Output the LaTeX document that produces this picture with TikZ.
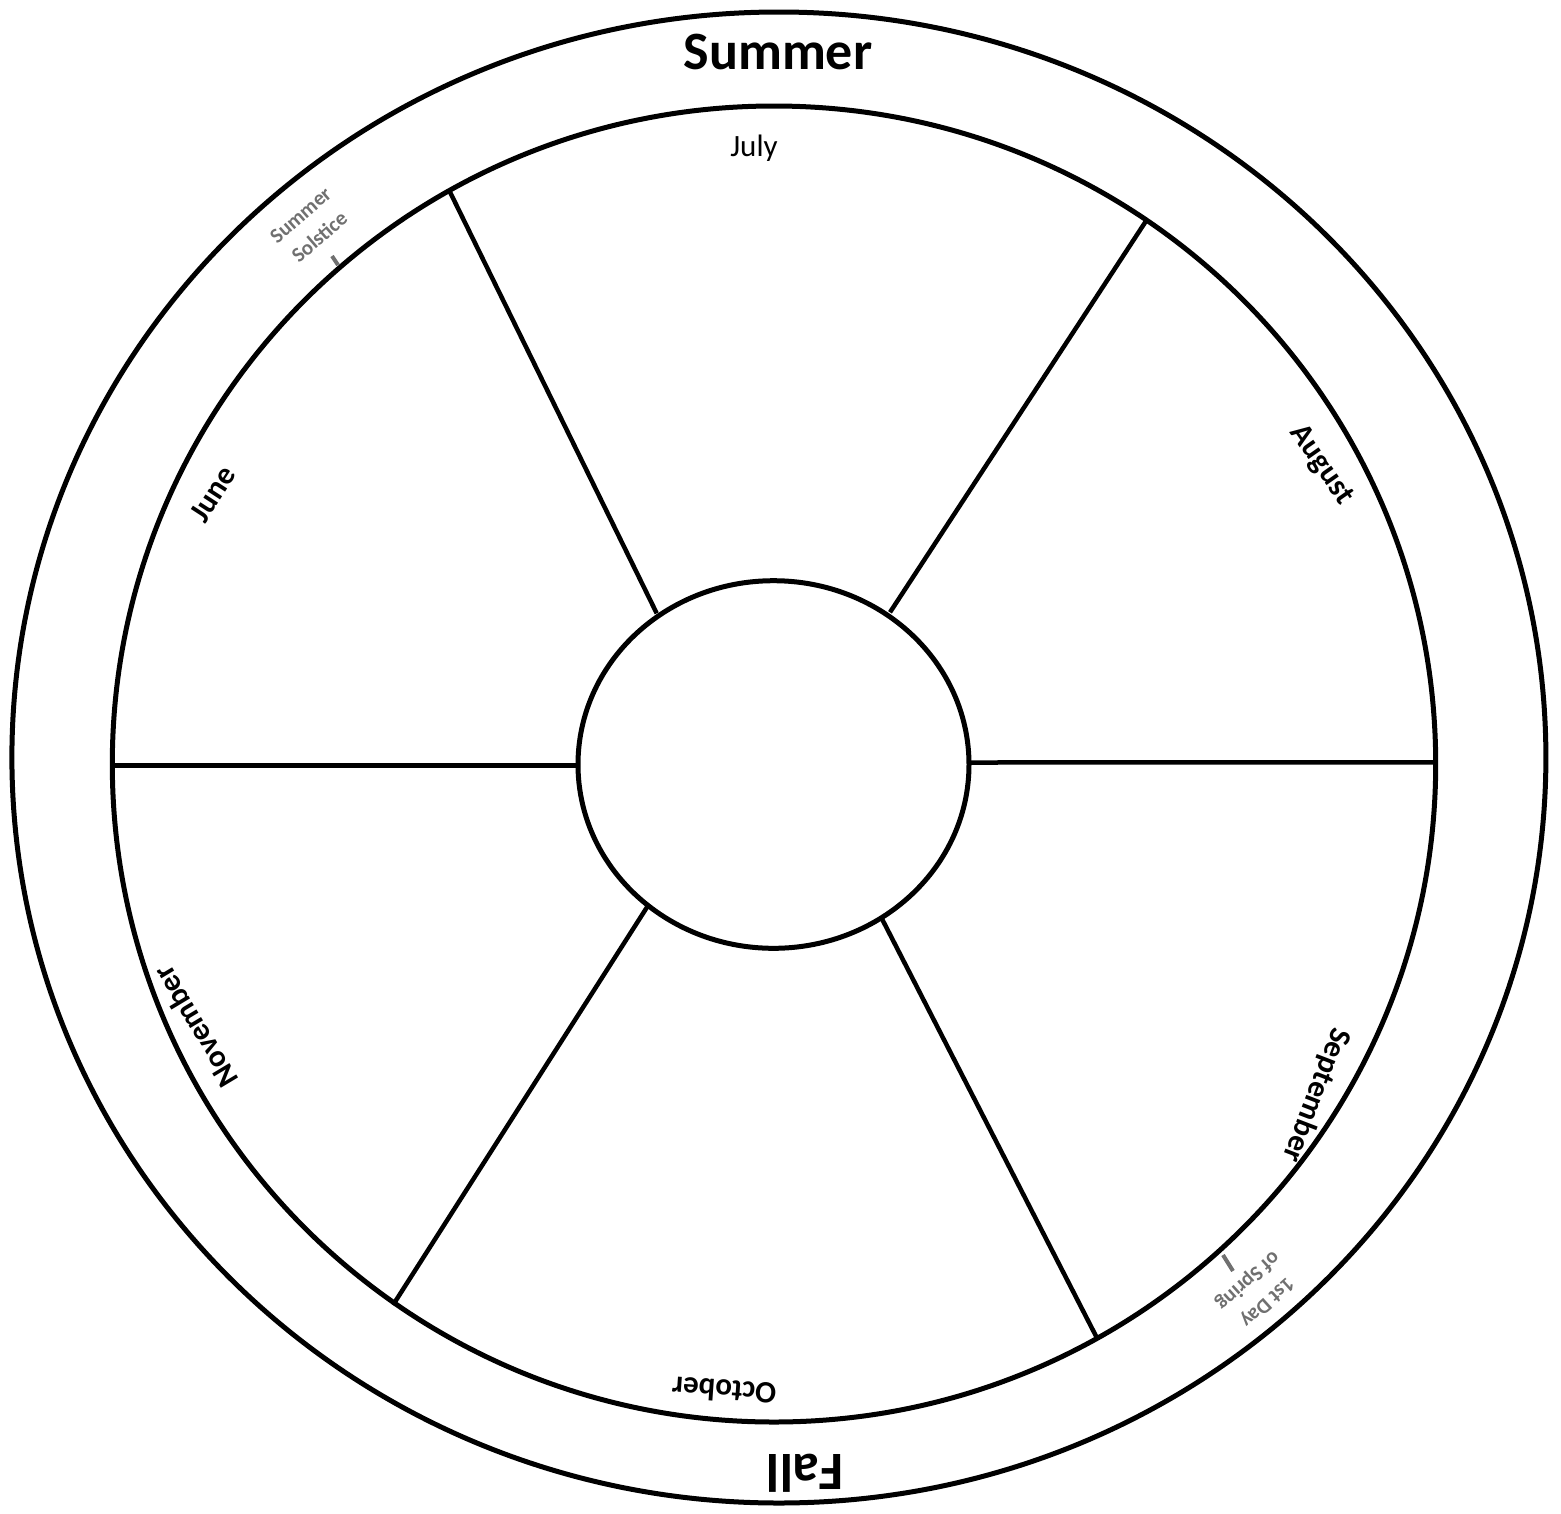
\documentclass[tikz,border=0pt]{standalone}
\usepackage{fontspec}
\setmainfont{Carlito}
\definecolor{tickgray}{RGB}{112,112,112}
\begin{document}
\begin{tikzpicture}[x=1pt,y=-1pt,
  ring/.style={draw=black,line width=5pt},
  spoke/.style={draw=black,line width=4.5pt},
  season/.style={font=\fontsize{54}{60}\selectfont\bfseries,inner sep=0pt},
  month/.style={font=\fontsize{31}{36}\selectfont\bfseries,inner sep=0pt},
  plainmonth/.style={font=\fontsize{31}{36}\selectfont,inner sep=0pt},
  note/.style={font=\fontsize{21}{29}\selectfont\bfseries,text=tickgray,align=center,inner sep=0pt},
  tick/.style={draw=tickgray,line width=4pt}]
\useasboundingbox (0,0) rectangle (1561,1513);
% rings
\coordinate (oc) at (778.9,757.5);
\coordinate (mc) at (774,764);
\coordinate (ic) at (773.5,764.5);
\draw[ring] (oc) ellipse [x radius=767pt, y radius=745.5pt];
\draw[ring] (mc) ellipse [x radius=661.7pt, y radius=658pt];
\draw[ring] (ic) ellipse [x radius=195.5pt, y radius=183.8pt];
% spoke end points
\coordinate (a1) at (656.7,613.3); \coordinate (b1) at (449,190);
\coordinate (a2) at (890,612.3);   \coordinate (b2) at (1146,221);
\coordinate (a3) at (970,762.5);   \coordinate (b3) at (1436,762.3);
\coordinate (a4) at (881.7,918.3); \coordinate (b4) at (1098,1340);
\coordinate (a5) at (647.3,906.7); \coordinate (b5) at (393,1305);
\coordinate (a6) at (578,765.7);   \coordinate (b6) at (113,765.7);
\foreach \i in {1,...,6} \draw[spoke] (a\i) -- (b\i);
% seasons
\node[season] (summer) at (778,52) {Summer};
\node[season,rotate=180] (fall) at (805,1473) {Fall};
% months
\node[plainmonth] (july) at (754,148) {July};
\node[month,rotate=-55] (august) at (1321,465) {August};
\node[month,rotate=-111] (september) at (1316,1095) {September};
\node[month,rotate=176] (october) at (724,1391) {October};
\node[month,rotate=121] (november) at (195,1027) {November};
\node[month,rotate=57] (june) at (213,494) {June};
% solstice / equinox notes
\node[note,rotate=41] (solstice) at (310,226) {Summer\\Solstice};
\coordinate (t1a) at (332,256); \coordinate (t1b) at (338,265);
\draw[tick] (t1a) -- (t1b);
\node[note,rotate=222] (spring) at (1257,1291) {1st Day\\of Spring};
\coordinate (t2a) at (1223,1255); \coordinate (t2b) at (1233,1271);
\draw[tick] (t2a) -- (t2b);
\end{tikzpicture}
\end{document}
